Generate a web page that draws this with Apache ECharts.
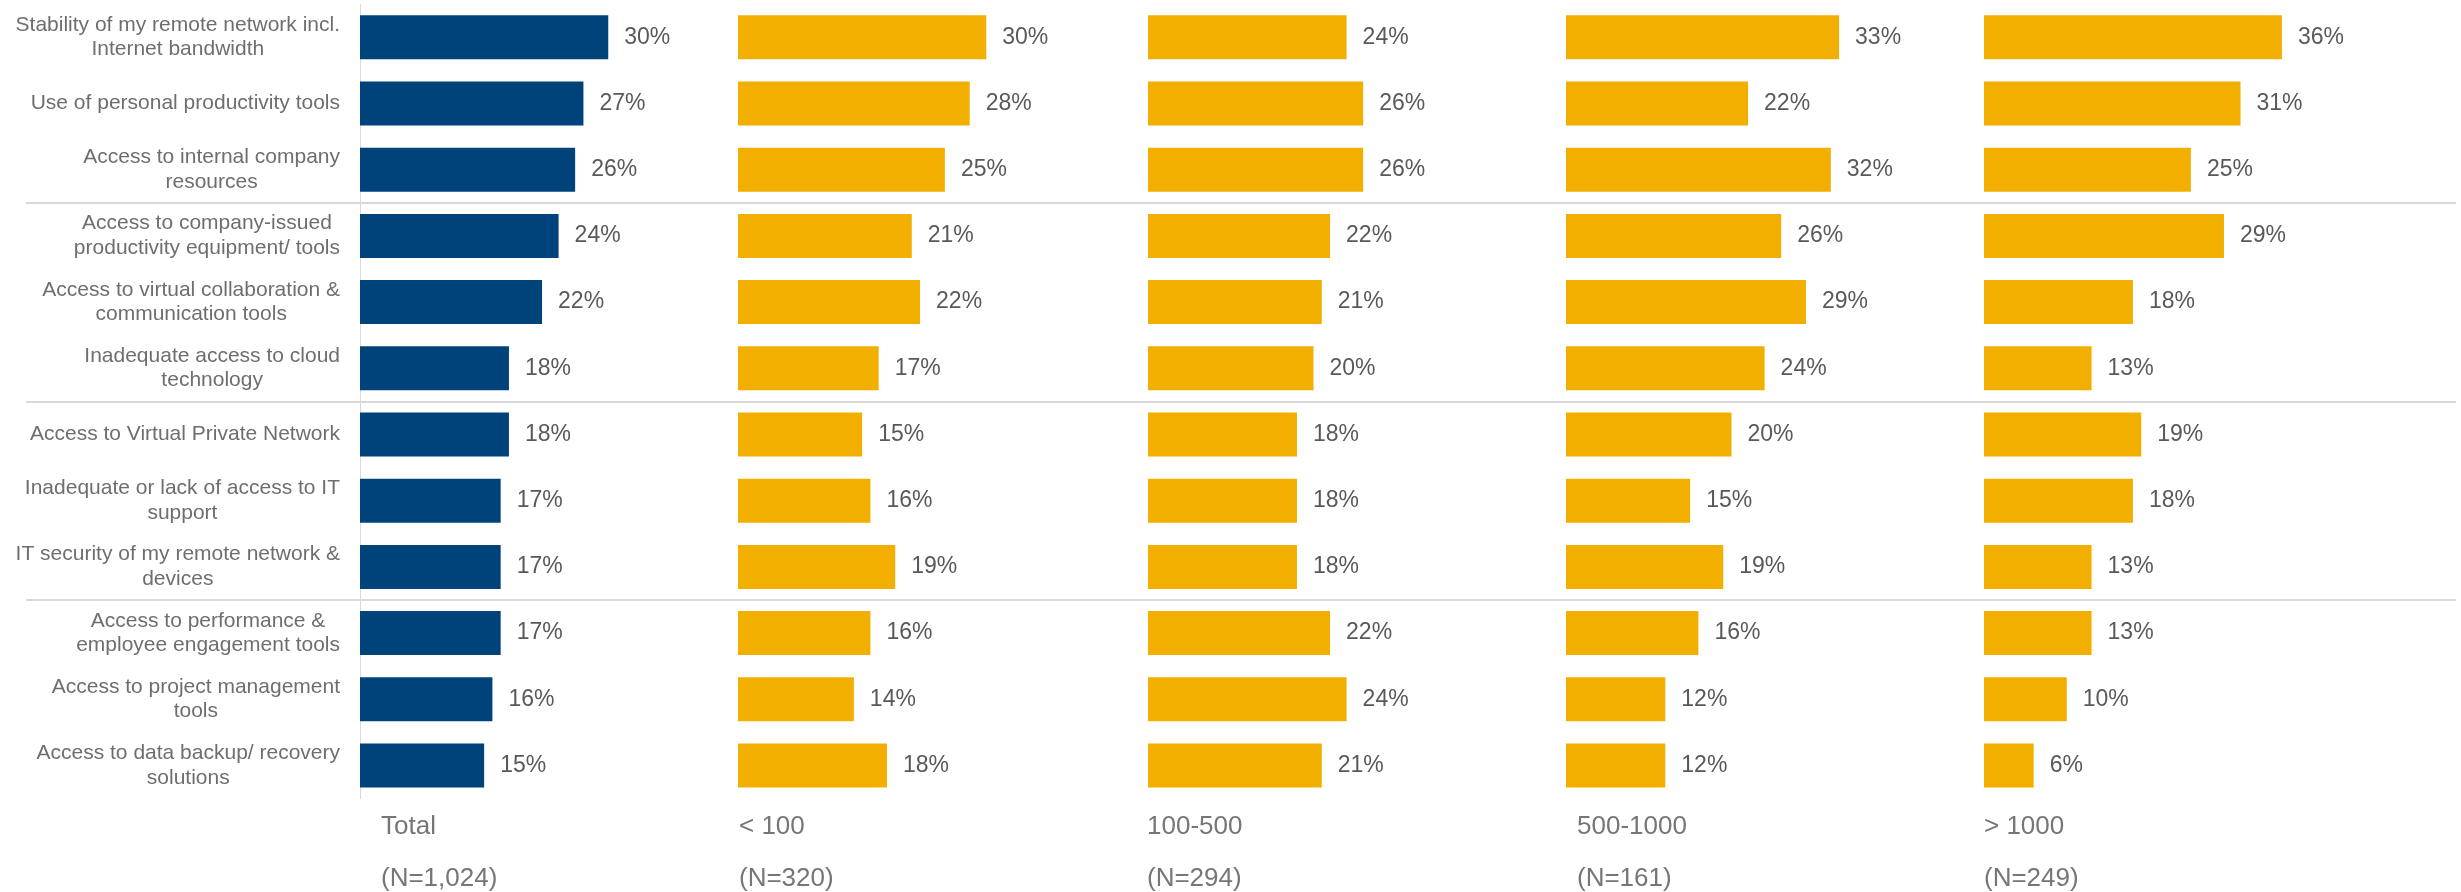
<!DOCTYPE html>
<html>
<head>
<meta charset="utf-8">
<script src="https://cdn.jsdelivr.net/npm/echarts@6/dist/echarts.min.js"></script>
<style>
  html, body { margin: 0; padding: 0; background: #ffffff; }
  #chart { width: 2461px; height: 892px; }
</style>
</head>
<body>
<div id="chart"></div>
<script>
// Barriers to remote work, by company size
const categories = [
  'Stability of my remote network incl.\nInternet bandwidth',
  'Use of personal productivity tools',
  'Access to internal company\nresources',
  'Access to company-issued\nproductivity equipment/ tools',
  'Access to virtual collaboration &\ncommunication tools',
  'Inadequate access to cloud\ntechnology',
  'Access to Virtual Private Network',
  'Inadequate or lack of access to IT\nsupport',
  'IT security of my remote network &\ndevices',
  'Access to performance &\nemployee engagement tools',
  'Access to project management\ntools',
  'Access to data backup/ recovery\nsolutions'
];

const groupNames = ['Total', '< 100', '100-500', '500-1000', '> 1000'];
const groupSizes = ['(N=1,024)', '(N=320)', '(N=294)', '(N=161)', '(N=249)'];

const totalValues   = [30, 27, 26, 24, 22, 18, 18, 17, 17, 17, 16, 15];
const under100      = [30, 28, 25, 21, 22, 17, 15, 16, 19, 16, 14, 18];
const from100to500  = [24, 26, 26, 22, 21, 20, 18, 18, 18, 22, 24, 21];
const from500to1000 = [33, 22, 32, 26, 29, 24, 20, 15, 19, 16, 12, 12];
const over1000      = [36, 31, 25, 29, 18, 13, 19, 18, 13, 13, 10, 6];

// the twelve items fall into blocks of three, separated by a divider line
const blockSize = 3;

const seriesValues = [totalValues, under100, from100to500, from500to1000, over1000];

const FONT = '"Liberation Sans", Arial, sans-serif';
const VALUE_GRAY = '#595959';
const CATEGORY_GRAY = '#6e6e6e';
const TITLE_GRAY = '#767676';
const BLUE = '#00437a';
const GOLD = '#f2af00';

const panelLeft = [360, 738, 1148, 1566, 1984];
const panelTitleX = [381, 739, 1147, 1577, 1984];
const panelWidth = 331;
const plotTop = 4.2;
const plotHeight = 794.4;

const grids = [];
const xAxes = [];
const yAxes = [];
const series = [];

seriesValues.forEach((vals, i) => {
  grids.push({ left: panelLeft[i], top: plotTop, width: panelWidth, height: plotHeight, containLabel: false });
  xAxes.push({ type: 'value', gridIndex: i, min: 0, max: 40, show: false });
  yAxes.push({
    type: 'category',
    gridIndex: i,
    data: categories,
    inverse: true,
    axisLine: { show: i === 0, lineStyle: { color: '#d9d9d9', width: 1 } },
    axisTick: { show: false },
    splitLine: { show: false },
    axisLabel: i === 0 ? {
      show: true,
      margin: 20,
      color: CATEGORY_GRAY,
      fontSize: 21,
      fontFamily: FONT,
      formatter: v => v.split('\n').map(s => '{c|' + s + '}').join('\n'),
      rich: { c: { align: 'center', fontSize: 21, lineHeight: 24.5, color: CATEGORY_GRAY, fontFamily: FONT } }
    } : { show: false }
  });
  series.push({
    type: 'bar',
    xAxisIndex: i,
    yAxisIndex: i,
    data: vals,
    barCategoryGap: '33.5%',
    itemStyle: { color: i === 0 ? BLUE : GOLD },
    label: {
      show: true,
      position: 'right',
      distance: 16,
      formatter: '{c}%',
      fontSize: 23,
      fontFamily: FONT,
      color: VALUE_GRAY
    },
    emphasis: { disabled: true },
    silent: true
  });
});

// full-width grid whose split lines mark the block boundaries
grids.push({ left: 26, right: 5, top: plotTop, height: plotHeight });
xAxes.push({ type: 'value', gridIndex: 5, show: false });
yAxes.push({
  type: 'value',
  gridIndex: 5,
  min: 0,
  max: categories.length,
  interval: blockSize,
  inverse: true,
  z: 0,
  axisLine: { show: false },
  axisTick: { show: false },
  axisLabel: { show: false },
  splitLine: {
    show: true,
    showMinLine: false,
    showMaxLine: false,
    lineStyle: { color: '#d9d9d9', width: 2 }
  }
});

const graphics = [];
groupNames.forEach((name, i) => {
  graphics.push({
    type: 'text', x: panelTitleX[i], y: 827,
    style: { text: name, fill: TITLE_GRAY, font: '26px ' + FONT, align: 'left', verticalAlign: 'middle' }
  });
  graphics.push({
    type: 'text', x: panelTitleX[i], y: 879,
    style: { text: groupSizes[i], fill: TITLE_GRAY, font: '26px ' + FONT, align: 'left', verticalAlign: 'middle' }
  });
});

const chart = echarts.init(document.getElementById('chart'), null, { renderer: 'canvas' });
chart.setOption({
  animation: false,
  backgroundColor: '#ffffff',
  textStyle: { fontFamily: FONT },
  grid: grids,
  xAxis: xAxes,
  yAxis: yAxes,
  series: series,
  graphic: graphics
});
</script>
</body>
</html>
